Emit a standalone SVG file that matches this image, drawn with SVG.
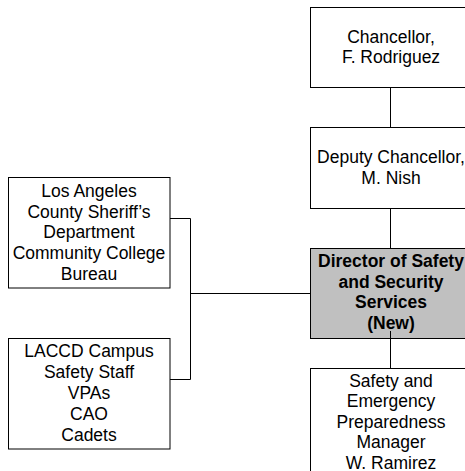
<svg xmlns="http://www.w3.org/2000/svg" width="465" height="471" viewBox="0 0 465 471">
<style>
.box{fill:#ffffff;stroke:#000000;stroke-width:1}
.hl{fill:#c0c0c0;stroke:#000000;stroke-width:1}
.t{font-family:"Liberation Sans",Arial,sans-serif;font-size:17.5px;fill:#000000;text-anchor:middle}
.b{font-weight:bold}
.c{fill:none;stroke:#000000;stroke-width:1}
</style>
<rect width="465" height="471" fill="#ffffff"/>
<g id="connectors">
<path class="c" d="M390.5,87V127"/>
<path class="c" d="M390.5,208V248"/>
<path class="c" d="M390.5,331V368"/>
<path class="c" d="M170,218.5H190.5V379.5H170"/>
<path class="c" d="M190.5,293.5H310"/>
</g>
<g id="chancellor">
<rect class="box" x="310.5" y="7.5" width="162" height="80"/>
<text class="t" x="391" y="42.7">Chancellor,</text>
<text class="t" x="391" y="63.3">F. Rodriguez</text>
</g>
<g id="deputy">
<rect class="box" x="310.5" y="127.5" width="162" height="81"/>
<text class="t" x="391" y="163">Deputy Chancellor,</text>
<text class="t" x="391" y="183.6">M. Nish</text>
</g>
<g id="director">
<rect class="hl" x="310.5" y="248.5" width="162" height="90"/>
<text class="t b" x="391" y="266.7">Director of Safety</text>
<text class="t b" x="391" y="287.5">and Security</text>
<text class="t b" x="391" y="308.3">Services</text>
<text class="t b" x="391" y="329">(New)</text>
</g>
<path class="c" d="M390.5,331V338"/>
<g id="safety-manager">
<rect class="box" x="310.5" y="368.5" width="162" height="110"/>
<text class="t" x="391" y="386.7">Safety and</text>
<text class="t" x="391" y="407.2">Emergency</text>
<text class="t" x="391" y="427.7">Preparedness</text>
<text class="t" x="391" y="448.2">Manager</text>
<text class="t" x="391" y="468.7">W. Ramirez</text>
</g>
<g id="sheriff">
<rect class="box" x="8.5" y="177.5" width="161.5" height="110.5"/>
<text class="t" x="89" y="196.7">Los Angeles</text>
<text class="t" x="89" y="217.5">County Sheriff’s</text>
<text class="t" x="89" y="238.4">Department</text>
<text class="t" x="89" y="259.3">Community College</text>
<text class="t" x="89" y="280.2">Bureau</text>
</g>
<g id="campus-safety">
<rect class="box" x="8.5" y="338.5" width="161.5" height="110.5"/>
<text class="t" x="89" y="357.2">LACCD Campus</text>
<text class="t" x="89" y="378">Safety Staff</text>
<text class="t" x="89" y="398.9">VPAs</text>
<text class="t" x="89" y="419.8">CAO</text>
<text class="t" x="89" y="440.7">Cadets</text>
</g>
</svg>
